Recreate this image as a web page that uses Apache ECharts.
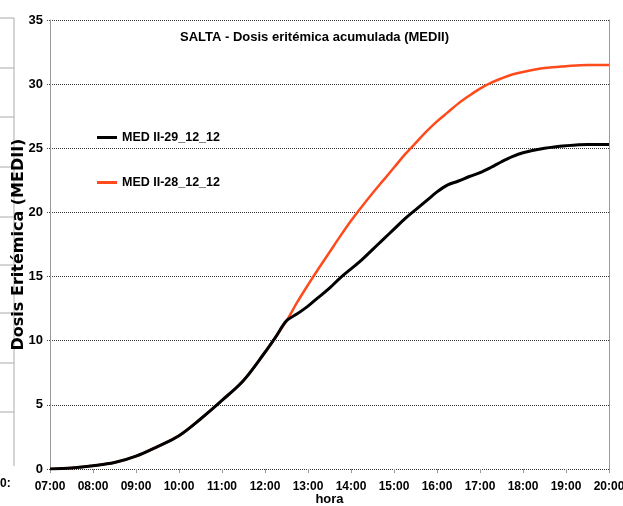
<!DOCTYPE html>
<html>
<head>
<meta charset="utf-8">
<script src="https://cdn.jsdelivr.net/npm/echarts@6/dist/echarts.min.js"></script>
<style>html,body{margin:0;padding:0;background:#fff}#c{width:623px;height:506px}</style>
</head>
<body>
<div id="c"></div>
<script>
// hours (decimal) and cumulative erythemal dose (MED)
const hours = [7.0,7.5,8.0,8.5,9.0,9.5,10.0,10.5,11.0,11.5,12.0,12.25,12.5,12.75,13.0,13.25,13.5,13.75,14.0,14.25,14.5,14.75,15.0,15.25,15.5,15.75,16.0,16.25,16.5,16.75,17.0,17.25,17.5,17.75,18.0,18.5,19.0,19.5,20.0];
const med29 = [0,0.08,0.25,0.5,1.0,1.75,2.6,3.9,5.35,6.9,9.1,10.3,11.55,12.1,12.7,13.4,14.1,14.9,15.6,16.3,17.1,17.9,18.7,19.5,20.2,20.9,21.6,22.15,22.45,22.8,23.1,23.5,23.95,24.35,24.65,25.0,25.2,25.3,25.3];
const med28 = [0,0.08,0.25,0.5,1.0,1.75,2.6,3.9,5.35,6.9,9.1,10.3,11.55,13.0,14.35,15.65,16.9,18.15,19.35,20.45,21.5,22.5,23.5,24.5,25.4,26.3,27.1,27.8,28.5,29.1,29.65,30.1,30.45,30.75,30.95,31.25,31.4,31.5,31.5];
const seriesNames = ['MED II-29_12_12','MED II-28_12_12'];
const titleText = 'SALTA - Dosis eritémica acumulada (MEDII)';
const yName = 'Dosis Eritémica (MEDII)';
const xName = 'hora';

const pair = (xs, ys) => xs.map((x, i) => [x, ys[i]]);
const font = "'Liberation Sans',Arial,sans-serif";

const chart = echarts.init(document.getElementById('c'), null, {renderer:'canvas'});
const leftLines = [];
[18,68,117,167,217,265,313,363,412].forEach(y => leftLines.push({type:'line', shape:{x1:0,y1:y,x2:14,y2:y}, style:{stroke:'#aaa', lineWidth:1}}));
leftLines.push({type:'line', shape:{x1:14,y1:18,x2:14,y2:466}, style:{stroke:'#aaa', lineWidth:1}});
leftLines.push({type:'text', left:0, top:478, style:{text:'0:', font:"bold 12px "+font, fill:'#000'}});

chart.setOption({
  animation:false,
  backgroundColor:'#fff',
  title:{text:titleText, left:180, top:31, padding:0, textStyle:{fontFamily:font, fontWeight:'bold', fontSize:13, color:'#000'}},
  legend:{orient:'vertical', left:97, top:131, padding:0, itemWidth:20, itemHeight:3, itemGap:32, icon:'rect',
    data:seriesNames,
    textStyle:{fontFamily:font, fontWeight:'bold', fontSize:12.5, color:'#000'}},
  grid:{left:50, right:14, top:20, bottom:37, outerBoundsMode:'none', containLabel:false},
  xAxis:{type:'value', min:7, max:20, interval:1, name:xName, nameLocation:'middle', nameGap:24, nameMoveOverlap:false,
    nameTextStyle:{fontFamily:font, fontWeight:'bold', fontSize:13, color:'#000'},
    axisLine:{show:false}, axisTick:{show:true, length:4, lineStyle:{color:'#999'}}, splitLine:{show:false},
    axisLabel:{margin:12, fontFamily:font, fontWeight:'bold', fontSize:12, color:'#000',
      formatter:v => (v<10?'0':'')+v+':00'}},
  yAxis:[{type:'value', min:0, max:35, interval:5, name:yName, nameLocation:'middle', nameGap:23, nameMoveOverlap:false,
    nameTextStyle:{fontFamily:"'DejaVu Sans',sans-serif", fontWeight:'bold', fontSize:16, color:'#000'},
    axisLine:{show:true, lineStyle:{color:'#999'}}, axisTick:{show:true, length:3, lineStyle:{color:'#444', type:'dotted'}},
    splitLine:{show:true, lineStyle:{color:'#333', type:'dotted', width:1}},
    axisLabel:{margin:7, fontFamily:font, fontWeight:'bold', fontSize:13, color:'#000'}},
   {type:'value', min:0, max:35, position:'right', axisLine:{show:true, onZero:false, lineStyle:{color:'#999'}},
    axisTick:{show:false}, axisLabel:{show:false}, splitLine:{show:false}}],
  series:[
    {name:seriesNames[1], type:'line', data:pair(hours, med28), showSymbol:false, smooth:0.35,
      lineStyle:{color:'#ff4a1c', width:2.5}, itemStyle:{color:'#ff4a1c'}},
    {name:seriesNames[0], type:'line', data:pair(hours, med29), showSymbol:false, smooth:0.35,
      lineStyle:{color:'#000', width:3}, itemStyle:{color:'#000'}}
  ],
  graphic:leftLines
});
</script>
</body>
</html>
